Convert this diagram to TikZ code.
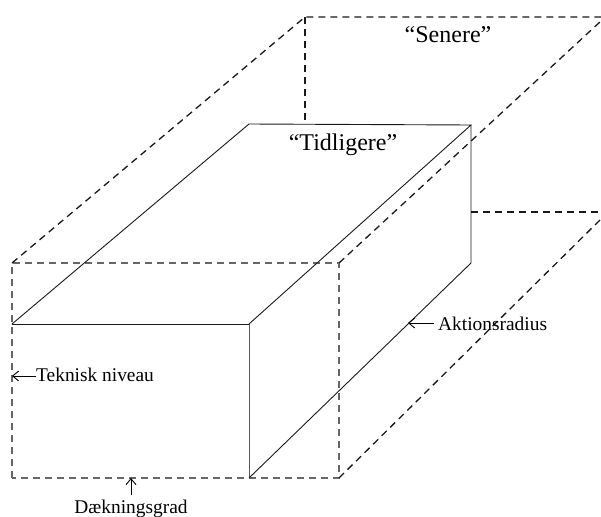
\documentclass[tikz,border=0pt]{standalone}
\usepackage{fontspec}
\setmainfont{Liberation Serif}
\usetikzlibrary{arrows.meta}
\begin{document}
\begin{tikzpicture}[x=1pt,y=-1pt,
  edge/.style={line width=0.9pt,black!90},
  hidden/.style={line width=1.3pt,black!90,dash pattern=on 7pt off 5pt},
  frontdash/.style={line width=1.1pt,black!60,dash pattern=on 7pt off 5pt},
  lbl/.style={font=\fontsize{19.4}{22}\selectfont,inner sep=0pt},
  biglbl/.style={font=\fontsize{24}{27}\selectfont,inner sep=0pt},
  pointer/.style={line width=0.9pt,-{Straight Barb[length=6pt,width=10pt]}}]
\useasboundingbox (0,0) rectangle (601,516);

% solid block ("Tidligere")
\coordinate (A) at (12,324);
\coordinate (B) at (249,324);
\coordinate (C) at (249,478);
\coordinate (D) at (12,478);
\coordinate (E) at (249,124);
\coordinate (F) at (471,125);
\coordinate (G) at (471,263);

% dashed block ("Senere")
\coordinate (P) at (12,263);
\coordinate (Q) at (339,263);
\coordinate (R) at (339,478);
\coordinate (T) at (305,17);
\coordinate (U) at (601,17);
\coordinate (V) at (601,21);
\coordinate (W) at (305,124);
\coordinate (H1) at (471,212);
\coordinate (H2) at (601,212);
\coordinate (X) at (601,219);

% dashed outline
\draw[frontdash] (D) -- (P) -- (Q) -- (R) -- (D);
\draw[hidden] (P) -- (T) -- (U);
\draw[hidden] (T) -- (W);
\draw[hidden] (Q) -- (V);
\draw[hidden] (H1) -- (H2);
\draw[hidden] (R) -- (X);

% solid outline
\draw[edge] (A) -- (B);
\draw[edge,black!65] (B) -- (C);
\draw[edge] (A) -- (E) -- (F) -- (B);
\draw[edge] (F) -- (G) -- (C);

% titles
\node[biglbl,anchor=base] (early) at (343,150) {“Tidligere”};
\node[biglbl,anchor=base] (late) at (448,43) {“Senere”};

% axis labels with pointers
\coordinate (tkn) at (12,376);
\node[lbl,anchor=base west] (tek) at (36,381) {Teknisk niveau};
\draw[pointer] (tek.west |- tkn) -- (tkn);

\coordinate (akt) at (408,323);
\node[lbl,anchor=base west] (aks) at (438,330) {Aktionsradius};
\draw[pointer] ([xshift=-4pt]aks.west |- akt) -- (akt);

\coordinate (dkt) at (131,478);
\node[lbl,anchor=base,inner sep=4pt] (dek) at (131,513) {Dækningsgrad};
\draw[pointer] (dek.north) -- (dkt);
\end{tikzpicture}
\end{document}
